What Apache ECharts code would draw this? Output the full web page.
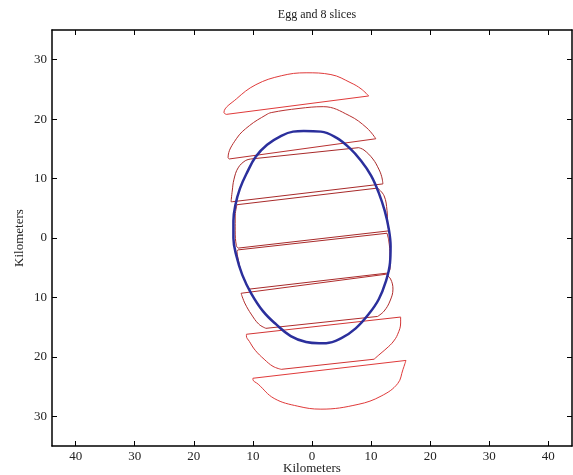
<!DOCTYPE html>
<html>
<head>
<meta charset="utf-8">
<script src="https://cdn.jsdelivr.net/npm/echarts@6/dist/echarts.min.js"></script>
<style>
  html, body { margin: 0; padding: 0; background: #fff; }
  #chart { width: 573px; height: 475px; }
</style>
</head>
<body>
<div id="chart"></div>
<script>
// tick positions; labels show the distance without sign
const xTicks = [-40, -30, -20, -10, 0, 10, 20, 30, 40];
const yTicks = [-30, -20, -10, 0, 10, 20, 30];

// egg outline, km (starts on the left side; first two points repeated to close it smoothly)
const egg = [
  [-13.3, 0.0], [-13.3, 2.9], [-13.0, 5.4], [-12.2, 8.3], [-11.0, 11.0], [-9.5, 13.7],
  [-7.6, 15.7], [-5.2, 17.2], [-3.2, 17.9], [-1.4, 18.0], [1.5, 17.9], [4.1, 16.9],
  [6.3, 15.2], [8.3, 13.0], [10.0, 10.5], [11.3, 7.6], [12.3, 4.6], [13.0, 1.5],
  [13.3, -1.4], [13.2, -4.2], [12.5, -7.3], [11.3, -10.3], [9.6, -12.8], [7.4, -15.2],
  [4.9, -16.9], [2.4, -17.7], [1.2, -17.7], [-1.0, -17.5], [-3.6, -16.5], [-6.1, -14.5],
  [-8.3, -12.3], [-10.3, -9.3], [-11.8, -6.2], [-12.8, -3.0], [-13.3, 0.0], [-13.3, 2.9]
];

// the eight slices, top to bottom; each is a list of curved pieces,
// consecutive pieces (and last -> first) are joined by straight cut edges
const slice1 = [
  [[-14.5, 20.8], [-14.9, 21.1], [-12.8, 23.4], [-9.5, 25.8], [-5.2, 27.3], [-1.0, 27.8],
   [3.2, 27.5], [6.6, 26.1], [8.3, 25.1], [9.6, 23.9]]
];
const slice2 = [
  [[-14.0, 13.3], [-14.2, 13.5], [-12.8, 16.7], [-10.6, 18.9], [-7.8, 20.7], [-6.9, 21.1],
   [-2.2, 21.8], [1.9, 22.1], [6.3, 20.6], [9.3, 18.5], [10.8, 16.7]]
];
const slice3 = [
  [[-13.5, 6.1], [-13.7, 6.1], [-13.5, 7.9], [-13.2, 9.9], [-12.5, 11.8], [-11.3, 13.0], [-10.3, 13.3]],
  [[7.9, 15.2], [8.8, 14.8], [10.3, 13.3], [11.3, 11.6], [11.8, 10.3], [12.0, 9.1]]
];
const slice4 = [
  [[11.1, 8.4], [12.2, 7.1], [12.7, 4.6], [12.8, 2.5], [13.0, 1.2]],
  [[-12.5, -1.7], [-12.8, -1.3], [-13.0, 1.2], [-13.0, 3.7], [-12.8, 5.2], [-12.7, 5.6]]
];
const slice5 = [
  [[12.7, 0.8], [13.0, -0.5], [13.2, -3.0], [13.2, -5.2], [12.8, -5.9]],
  [[-10.6, -8.6], [-11.3, -7.4], [-12.0, -5.6], [-12.5, -3.5], [-12.7, -2.2], [-12.5, -2.0]]
];
const slice6 = [
  [[12.5, -6.1], [13.3, -6.9], [13.7, -8.6], [13.2, -10.6], [12.2, -12.3], [11.1, -13.2]],
  [[-7.8, -15.2], [-9.0, -14.5], [-10.3, -12.8], [-11.3, -11.1], [-11.8, -9.9], [-12.0, -9.3]]
];
const slice7 = [
  [[15.0, -13.3], [15.0, -14.3], [14.5, -16.2], [13.7, -17.5], [12.7, -18.5], [11.3, -19.7], [10.5, -20.4]],
  [[-5.2, -22.1], [-6.6, -21.6], [-8.1, -20.4], [-9.6, -18.9], [-10.6, -17.4], [-11.1, -16.5], [-11.1, -16.2]]
];
const slice8 = [
  [[15.9, -20.6], [15.4, -22.1], [14.5, -24.5], [11.7, -26.6], [7.8, -28.0], [1.5, -28.8],
   [-2.4, -28.3], [-6.4, -27.0], [-9.1, -24.6], [-10.0, -23.8], [-10.0, -23.6]]
];

const slices = [slice1, slice2, slice3, slice4, slice5, slice6, slice7, slice8];
const sliceColors = ['#e03a3a', '#b83030', '#a82a2a', '#a82a2a', '#a82a2a', '#b02c2c', '#d23434', '#e03a3a'];

const font = 'Liberation Serif';
const chart = echarts.init(document.getElementById('chart'));

const tickStyle = { inside: true, length: 5, lineStyle: { color: '#000' } };
const lineOf = (data, color, smooth) => ({
  type: 'line',
  data: data,
  showSymbol: false,
  smooth: smooth,
  lineStyle: { color: color, width: 1 },
  z: 2
});

const series = [];
slices.forEach((s, i) => {
  s.forEach((piece, j) => {
    series.push(lineOf(piece, sliceColors[i], 0.4));
    const next = s[(j + 1) % s.length];
    series.push(lineOf([piece[piece.length - 1], next[0]], sliceColors[i], false));
  });
});
series.push({
  type: 'line',
  data: egg,
  showSymbol: false,
  smooth: 0.4,
  lineStyle: { color: '#2b2f9c', width: 2.5 },
  z: 3
});

const axisLine = { onZero: false, lineStyle: { color: '#000', width: 1.5 } };

const option = {
  animation: false,
  backgroundColor: '#fff',
  title: {
    text: 'Egg and 8 slices',
    left: 312,
    textAlign: 'center',
    top: 4,
    textStyle: { fontFamily: font, fontSize: 12, fontWeight: 'normal', color: '#222' }
  },
  grid: { left: 52, right: 1, top: 30, bottom: 29, outerBoundsMode: 'none', containLabel: false },
  xAxis: [
    {
      type: 'value',
      min: -44,
      max: 44,
      name: 'Kilometers',
      nameLocation: 'middle',
      nameGap: 16,
      nameMoveOverlap: false,
      nameTextStyle: { fontFamily: font, fontSize: 13, color: '#222' },
      splitLine: { show: false },
      axisLine: axisLine,
      axisTick: Object.assign({ customValues: xTicks }, tickStyle),
      axisLabel: {
        customValues: xTicks,
        formatter: v => String(Math.abs(v)),
        fontFamily: font, fontSize: 13, color: '#222', margin: 4
      }
    },
    {
      type: 'value',
      position: 'top',
      min: -44,
      max: 44,
      splitLine: { show: false },
      axisLine: axisLine,
      axisTick: Object.assign({ customValues: xTicks }, tickStyle),
      axisLabel: { show: false }
    }
  ],
  yAxis: [
    {
      type: 'value',
      min: -35,
      max: 35,
      name: 'Kilometers',
      nameLocation: 'middle',
      nameGap: 26,
      nameMoveOverlap: false,
      nameTextStyle: { fontFamily: font, fontSize: 13, color: '#222' },
      splitLine: { show: false },
      axisLine: axisLine,
      axisTick: Object.assign({ customValues: yTicks }, tickStyle),
      axisLabel: {
        customValues: yTicks,
        formatter: v => String(Math.abs(v)),
        fontFamily: font, fontSize: 13, color: '#222', margin: 5
      }
    },
    {
      type: 'value',
      position: 'right',
      min: -35,
      max: 35,
      splitLine: { show: false },
      axisLine: axisLine,
      axisTick: Object.assign({ customValues: yTicks }, tickStyle),
      axisLabel: { show: false }
    }
  ],
  series: series
};

chart.setOption(option);
</script>
</body>
</html>
